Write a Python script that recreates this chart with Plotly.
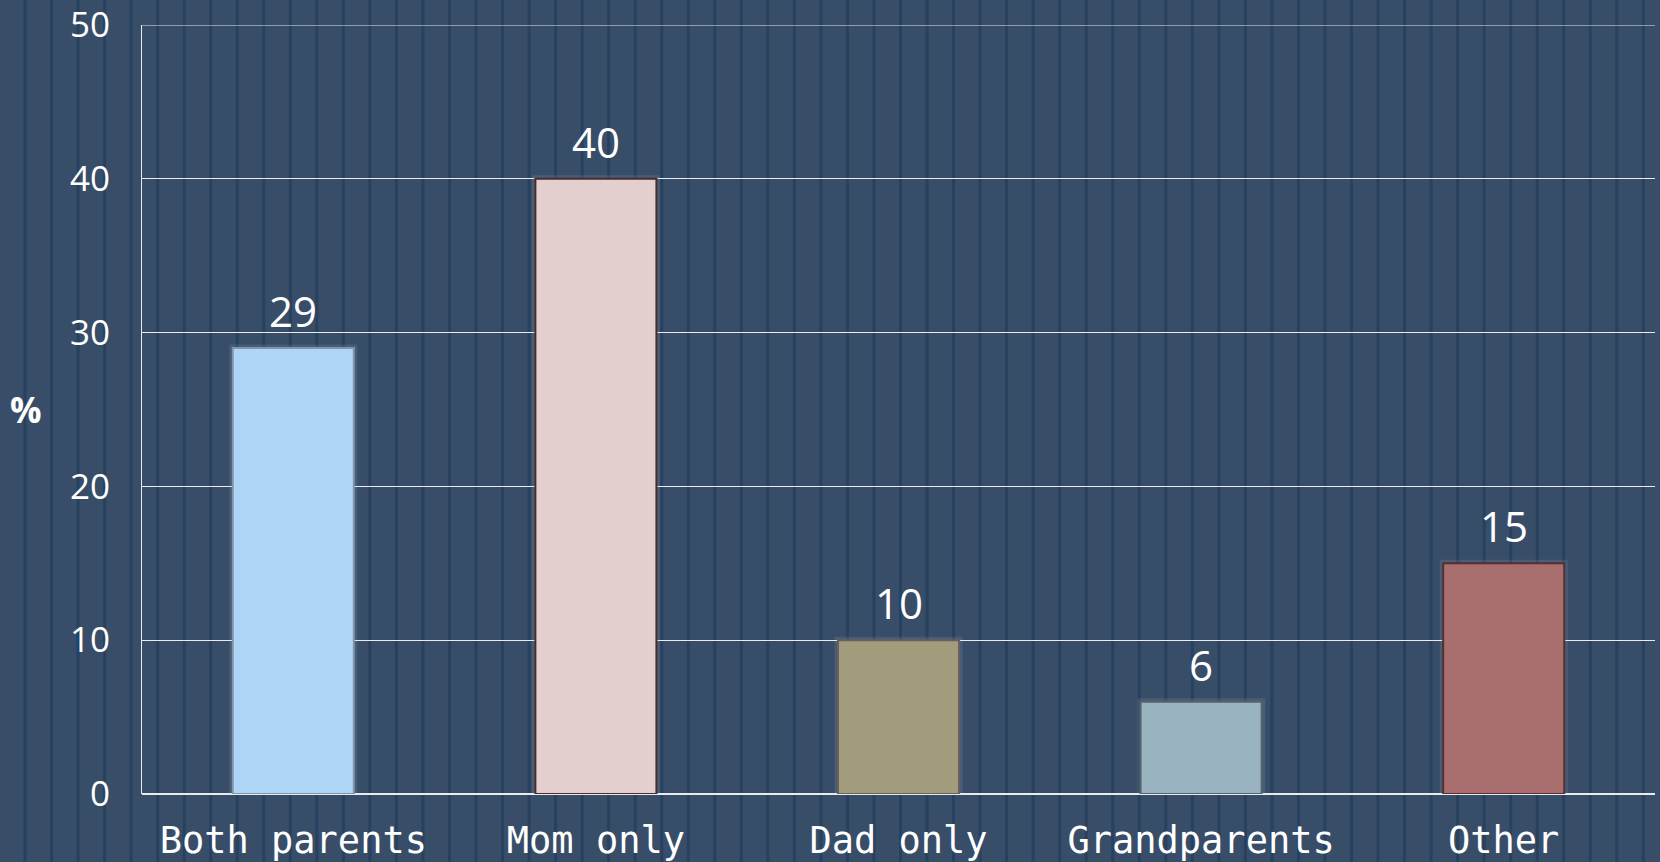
import plotly.graph_objects as go

categories = ["Both parents", "Mom only", "Dad only", "Grandparents", "Other"]
values = [29, 40, 10, 6, 15]
bar_colors = ["#aed4f6", "#e4cfcf", "#a19c7b", "#99b4c0", "#a96f6e"]
edge_colors = ["#8096ab", "#4b2b2b", "#6a5e5e", "#56646a", "#5a2e2e"]
y_ticks = [0, 10, 20, 30, 40, 50]

W, H = 1660, 862
L, R, T, B = 142, 5, 25, 68
BG = "#384e68"
STRIPE = "#27415f"
GRID = "#e8ecf0"

fig = go.Figure()

# soft glow behind the bars
fig.add_trace(go.Bar(
    x=categories, y=values, width=0.4,
    marker=dict(color="rgba(0,0,0,0)", line=dict(color="rgba(190,205,220,0.12)", width=7)),
    hoverinfo="skip", showlegend=False,
))
fig.add_trace(go.Bar(
    x=categories, y=values, width=0.4,
    marker=dict(color=bar_colors, line=dict(color=edge_colors, width=2)),
    showlegend=False,
))

# value labels above the bars
for c, v in zip(categories, values):
    fig.add_annotation(x=c, y=v, text=str(v), showarrow=False, yanchor="bottom", yshift=7,
                       font=dict(family="Open Sans", size=42, color="white"))

# "%" axis label
fig.add_annotation(xref="paper", yref="paper", x=(26 - L) / (W - L - R), y=0.5, text="<b>%</b>",
                   xanchor="center", yanchor="middle", showarrow=False,
                   font=dict(family="Open Sans", size=35, color="white"))

# vertical pinstripes of the background
pw = W - L - R
ph = H - T - B
shapes = []
px = 25.0
while px < W:
    shapes.append(dict(type="line", xref="paper", yref="paper",
                       x0=(px - L) / pw, x1=(px - L) / pw,
                       y0=-B / ph, y1=1 + T / ph,
                       line=dict(color=STRIPE, width=3), layer="below"))
    px += 26.53
# top gridline sits on the range edge, so draw it explicitly
shapes.append(dict(type="line", xref="paper", yref="y", x0=0, x1=1, y0=y_ticks[-1], y1=y_ticks[-1],
                   line=dict(color=GRID, width=1)))

fig.update_layout(
    width=W, height=H,
    margin=dict(l=L, r=R, t=T, b=B),
    paper_bgcolor=BG,
    plot_bgcolor="rgba(0,0,0,0)",
    barmode="overlay",
    shapes=shapes,
    showlegend=False,
)
fig.update_xaxes(
    tickfont=dict(family="DejaVu Sans Mono", size=37, color="white"),
    ticks="outside", ticklen=14, tickcolor="rgba(0,0,0,0)",
    showgrid=False, showline=False, zeroline=False,
    range=[-0.5, 4.5], automargin=False,
)
fig.update_yaxes(
    range=[0, 50], tickvals=y_ticks, ticklabeloverflow="allow",
    tickfont=dict(family="Open Sans", size=35, color="white"),
    showgrid=True, gridcolor=GRID, gridwidth=1,
    zeroline=True, zerolinecolor=GRID, zerolinewidth=1.5,
    showline=True, linecolor=GRID, linewidth=1,
    ticks="outside", ticklen=24, tickcolor="rgba(0,0,0,0)",
    automargin=False,
)

# drop the default page margin so the figure fills the window
fig.write_html("out.html", config={"displayModeBar": False},
               post_script="document.body.style.margin='0';"
                           "document.body.style.background='" + BG + "';")
